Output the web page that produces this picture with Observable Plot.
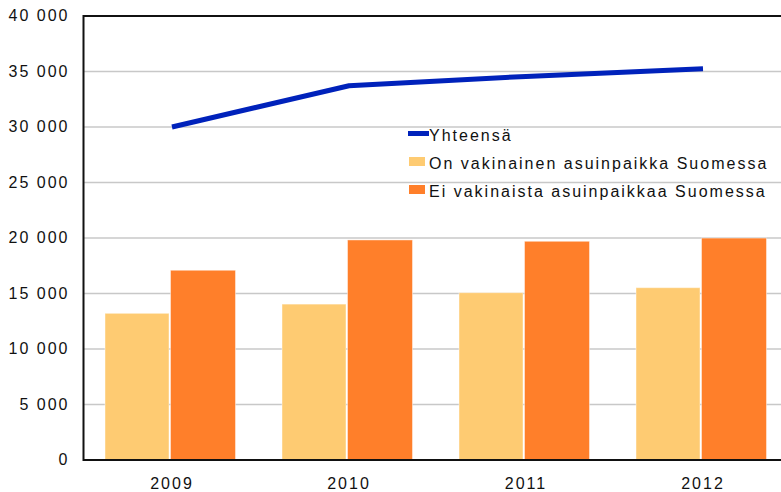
<!DOCTYPE html>
<html>
<head>
<meta charset="utf-8">
<script src="https://cdn.jsdelivr.net/npm/d3@7"></script>
<script src="https://cdn.jsdelivr.net/npm/@observablehq/plot@0.6"></script>
<style>
  html, body { margin: 0; padding: 0; background: #fff; overflow: hidden; }
  #wrap { position: relative; width: 781px; height: 492px; overflow: hidden; }
  #wrap svg { max-width: none !important; width: 791px; height: 492px; display: block; }
  #legend { position: absolute; left: 408px; top: 122.2px; font-family: "Liberation Sans", Arial, sans-serif; font-size: 16px; letter-spacing: 2px; color: #111; }
  .row { position: relative; height: 28px; line-height: 28px; white-space: nowrap; }
  .row .txt { margin-left: 21px; }
  .mk { position: absolute; left: 0; }
</style>
</head>
<body>
<div id="wrap"></div>
<script>
const years = ["2009", "2010", "2011", "2012"];
const onValues = [13170, 14000, 15030, 15480];     // On vakinainen asuinpaikka Suomessa
const eiValues = [17050, 19780, 19660, 19950];     // Ei vakinaista asuinpaikkaa Suomessa
const totalValues = [30000, 33720, 34560, 35250];  // Yhteensä
const yTicks = [0, 5000, 10000, 15000, 20000, 25000, 30000, 35000, 40000];
const seriesNames = ["Yhteensä", "On vakinainen asuinpaikka Suomessa", "Ei vakinaista asuinpaikkaa Suomessa"];
const colors = ["#0022BB", "#FECB72", "#FF7F2A"];

const data = years.map((y, i) => ({year: y, on: onValues[i], ei: eiValues[i], total: totalValues[i]}));
const fmt = d3.formatLocale({decimal: ",", thousands: "\u00a0", grouping: [3], currency: ["", ""]}).format(",d");

const chart = Plot.plot({
  width: 791,
  height: 492,
  marginLeft: 83,
  marginRight: 0,
  marginTop: 15.5,
  marginBottom: 32.5,
  style: {fontFamily: "'Liberation Sans', Arial, sans-serif", fontSize: "16px", letterSpacing: "2px", color: "#111", background: "#fff", maxWidth: "none"},
  x: {domain: years, padding: 0, label: null},
  y: {domain: [0, 40000], label: null},
  marks: [
    Plot.gridY(yTicks, {stroke: "#c8c8c8", strokeOpacity: 1, strokeWidth: 1.5}),
    Plot.barY(data, {x: "year", y: "on", fill: colors[1], stroke: "#fff", strokeOpacity: 0.45, strokeWidth: 1, insetLeft: 22, insetRight: 91}),
    Plot.barY(data, {x: "year", y: "ei", fill: colors[2], stroke: "#fff", strokeOpacity: 0.45, strokeWidth: 1, insetLeft: 87.5, insetRight: 24.5}),
    Plot.lineY(data, {x: "year", y: "total", stroke: colors[0], strokeWidth: 5, strokeLinecap: "butt", strokeLinejoin: "round"}),
    Plot.frame({stroke: "#111", strokeWidth: 2}),
    Plot.axisY(yTicks, {tickSize: 0, tickPadding: 14, tickFormat: fmt, fontSize: 16, label: null}),
    Plot.axisX({tickSize: 0, tickPadding: 17.5, fontSize: 16, label: null})
  ]
});

const wrap = document.getElementById("wrap");
wrap.appendChild(chart);

const legend = document.createElement("div");
legend.id = "legend";
seriesNames.forEach((name, i) => {
  const row = document.createElement("div");
  row.className = "row";
  const mk = document.createElement("span");
  mk.className = "mk";
  mk.style.background = colors[i];
  if (i === 0) { mk.style.top = "9.3px"; mk.style.width = "21px"; mk.style.height = "5px"; }
  else { mk.style.left = "1px"; mk.style.top = "7.2px"; mk.style.width = "16px"; mk.style.height = "9px"; }
  const txt = document.createElement("span");
  txt.className = "txt";
  txt.textContent = name;
  row.appendChild(mk);
  row.appendChild(txt);
  legend.appendChild(row);
});
wrap.appendChild(legend);
</script>
</body>
</html>
